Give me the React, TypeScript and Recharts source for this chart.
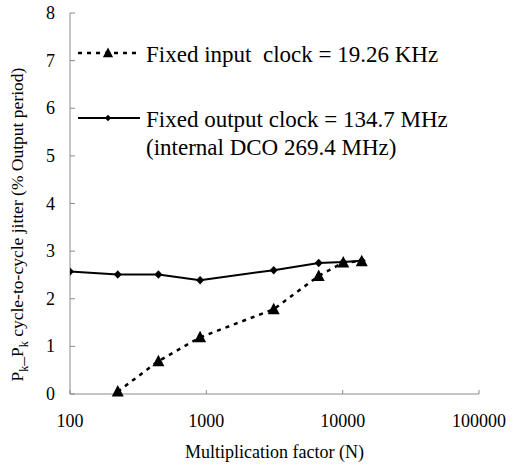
import React from "react";
import { LineChart, Line, XAxis, YAxis, Legend, Label } from "recharts";

// values
const multFactor = [100, 224, 445, 900, 3120, 6670, 10100, 13800];
const fixedInputJitter = [null, 0.05, 0.69, 1.19, 1.78, 2.48, 2.76, 2.79];
const fixedOutputJitter = [2.57, 2.51, 2.51, 2.39, 2.6, 2.75, 2.77, 2.8];
const xTicks = [100, 1000, 10000, 100000];
const yTicks = [0, 1, 2, 3, 4, 5, 6, 7, 8];

const inputName = "Fixed input  clock = 19.26 KHz";
const outputName = "Fixed output clock = 134.7 MHz";
const outputName2 = "(internal DCO 269.4 MHz)";

const data = multFactor.map((n, i) => ({
    n,
    fixedIn: fixedInputJitter[i],
    fixedOut: fixedOutputJitter[i]
}));

const FONT = "'Liberation Serif', 'Times New Roman', serif";
const AXIS = "#8a8a8a";

function Triangle({ cx, cy, s = 1 }: any) {
    const w = 6 * s;
    return (
        <polygon
            points={`${cx},${cy - 6.5 * s} ${cx + w},${cy + 5 * s} ${cx - w},${cy + 5 * s}`}
            fill="#000"
        />
    );
}

function Diamond({ cx, cy, s = 1 }: any) {
    return (
        <polygon
            points={`${cx},${cy - 4.2 * s} ${cx + 4 * s},${cy} ${cx},${cy + 4.2 * s} ${cx - 4 * s},${cy}`}
            fill="#000"
        />
    );
}

const triDot = (p: any) =>
    p.cy == null ? <g key={p.index} /> : <Triangle key={p.index} cx={p.cx} cy={p.cy} />;
const diaDot = (p: any) =>
    p.cy == null ? <g key={p.index} /> : <Diamond key={p.index} cx={p.cx} cy={p.cy} />;

const XTick = (p: any) => (
    <g>
        <line x1={p.x} y1={p.y} x2={p.x} y2={p.y - 4} stroke={AXIS} />
        <text x={p.x} y={p.y + 33} textAnchor="middle" fontSize={18} fontFamily={FONT} fill="#000">
            {p.payload.value}
        </text>
    </g>
);

const YTick = (p: any) => (
    <g>
        <line x1={p.x} y1={p.y} x2={p.x + 5} y2={p.y} stroke={AXIS} />
        <text x={p.x - 15} y={p.y + 6} textAnchor="end" fontSize={18} fontFamily={FONT} fill="#000">
            {p.payload.value}
        </text>
    </g>
);

const YLabel = (props: any) => {
    const vb = props.viewBox;
    const x = vb.x + 13;
    const y = vb.y + vb.height / 2 + 21;
    return (
        <text
            x={x}
            y={y}
            transform={`rotate(-90, ${x}, ${y})`}
            textAnchor="middle"
            fontSize={17.5}
            fontFamily={FONT}
            fill="#000"
        >
            P<tspan dy={5} fontSize={12}>k</tspan>
            <tspan dy={-5}>_P</tspan>
            <tspan dy={5} fontSize={12}>k</tspan>
            <tspan dy={-5}> cycle-to-cycle jitter (% Output period)</tspan>
        </text>
    );
};

const XLabel = (props: any) => {
    const vb = props.viewBox;
    return (
        <text
            x={vb.x + vb.width / 2}
            y={vb.y + 64}
            textAnchor="middle"
            fontSize={18}
            fontFamily={FONT}
            fill="#000"
        >
            Multiplication factor (N)
        </text>
    );
};

const renderLegend = () => (
    <svg width={516} height={170} style={{ display: "block" }}>
        <line x1={78} y1={53} x2={140} y2={53} stroke="#000" strokeWidth={2.5} strokeDasharray="4 5" />
        <Triangle cx={108} cy={53} s={0.85} />
        <text x={146} y={61.5} fontSize={23} fontFamily={FONT} fill="#000" style={{ whiteSpace: "pre" }}>
            {inputName}
        </text>
        <line x1={78} y1={118} x2={140} y2={118} stroke="#000" strokeWidth={2} />
        <Diamond cx={108} cy={118} s={0.8} />
        <text x={146} y={126.5} fontSize={23} fontFamily={FONT} fill="#000">
            {outputName}
        </text>
        <text x={146} y={155} fontSize={23} fontFamily={FONT} fill="#000">
            {outputName2}
        </text>
    </svg>
);

export default function App() {
    return (
        <div style={{ position: "absolute", left: 0, top: 0, background: "#fff", fontFamily: FONT }}>
            <LineChart
                width={516}
                height={468}
                data={data}
                margin={{ top: 13, right: 37, bottom: 14, left: 10 }}
            >
                <XAxis
                    dataKey="n"
                    type="number"
                    scale="log"
                    domain={[100, 100000]}
                    ticks={xTicks}
                    allowDataOverflow
                    height={60}
                    tickSize={0}
                    tickMargin={0}
                    tickLine={false}
                    axisLine={{ stroke: AXIS }}
                    tick={XTick}
                    interval={0}
                >
                    <Label content={XLabel} />
                </XAxis>
                <YAxis
                    type="number"
                    domain={[0, 8]}
                    ticks={yTicks}
                    width={60}
                    tickSize={0}
                    tickMargin={0}
                    tickLine={false}
                    axisLine={{ stroke: AXIS }}
                    tick={YTick}
                    interval={0}
                >
                    <Label content={YLabel} />
                </YAxis>
                <Legend
                    layout="horizontal"
                    verticalAlign="middle"
                    align="center"
                    content={renderLegend}
                    wrapperStyle={{ left: 0, top: 0, width: 516, height: 170, pointerEvents: "none" }}
                />
                <Line
                    name={outputName}
                    dataKey="fixedOut"
                    stroke="#000"
                    strokeWidth={2}
                    dot={diaDot}
                    activeDot={false}
                    isAnimationActive={false}
                />
                <Line
                    name={inputName}
                    dataKey="fixedIn"
                    stroke="#000"
                    strokeWidth={2.5}
                    strokeDasharray="4 5"
                    dot={triDot}
                    activeDot={false}
                    isAnimationActive={false}
                />
            </LineChart>
        </div>
    );
}
